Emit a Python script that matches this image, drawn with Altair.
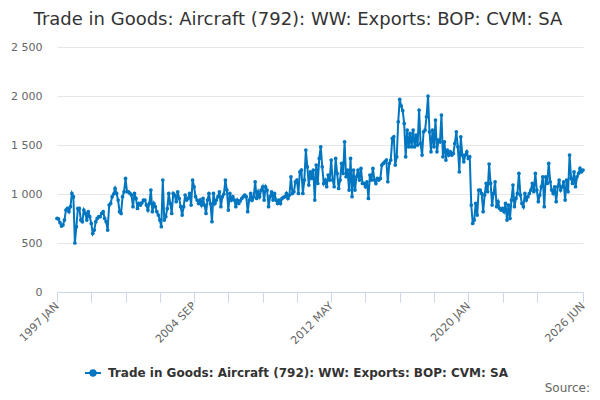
import altair as alt
import pandas as pd

TITLE = "Trade in Goods: Aircraft (792): WW: Exports: BOP: CVM: SA"
BLUE = "#0076C0"

MONTH_NAMES = ["JAN", "FEB", "MAR", "APR", "MAY", "JUN",
               "JUL", "AUG", "SEP", "OCT", "NOV", "DEC"]
months = [f"{y} {m}" for y in range(1997, 2027) for m in MONTH_NAMES][:354]

values = [
    751, 745, 707, 673, 683, 734, 836, 853, 819, 870, 1006, 972,
    500, 666, 853, 853, 734, 717, 836, 802, 734, 819, 768, 700,
    598, 632, 717, 751, 768, 768, 802, 819, 751, 717, 632, 887,
    904, 972, 1000, 1057, 1006, 938, 819, 802, 972, 1023, 1159, 1023,
    1023, 1006, 989, 870, 1006, 955, 853, 904, 887, 910, 938, 938,
    887, 836, 904, 1040, 819, 904, 870, 819, 785, 734, 666, 1142,
    734, 768, 850, 1006, 904, 802, 1006, 989, 921, 1023, 955, 870,
    785, 870, 989, 938, 955, 1006, 887, 1142, 1074, 972, 938, 904,
    938, 887, 955, 887, 802, 938, 1006, 900, 717, 1006, 904, 938,
    972, 1023, 870, 972, 1000, 1142, 1040, 836, 1006, 938, 972, 938,
    870, 938, 904, 930, 955, 972, 989, 972, 819, 938, 1006, 938,
    972, 1125, 955, 1023, 972, 1040, 1074, 938, 1074, 1040, 870, 972,
    1023, 938, 1006, 938, 904, 938, 904, 955, 965, 972, 1006, 955,
    989, 1176, 1006, 1023, 1125, 1142, 1006, 1227, 1244, 1006, 1142, 1448,
    1278, 1091, 1227, 1159, 1244, 938, 1295, 1108, 1363, 1482, 1278, 1108,
    1142, 1074, 1193, 1142, 1346, 1142, 1074, 1363, 1210, 1057, 1142, 1312,
    1210, 1533, 1176, 1244, 1040, 1363, 972, 1244, 1040, 1176, 1244, 1142,
    1261, 1108, 1108, 1074, 1125, 955, 1193, 1142, 1261, 1142, 1108, 1159,
    1142, 1159, 1295, 1312, 1329, 1346, 1125, 1312, 1346, 1567, 1584, 1295,
    1380, 1737, 1965, 1900, 1850, 1720, 1380, 1652, 1482, 1618, 1482, 1652,
    1482, 1601, 1499, 1856, 1516, 1397, 1635, 1652, 1788, 1999, 1635, 1431,
    1652, 1482, 1754, 1431, 1550, 1533, 1805, 1380, 1533, 1346, 1448, 1397,
    1431, 1397, 1414, 1516, 1635, 1482, 1227, 1584, 1397, 1329, 1397, 1431,
    1363, 1380, 887, 700, 734, 904, 785, 1040, 1040, 1006, 819, 989,
    1108, 1023, 1306, 1108, 887, 1006, 1125, 870, 921, 853, 836, 853,
    819, 904, 734, 887, 751, 938, 1091, 870, 955, 1006, 1210, 989,
    904, 870, 1006, 938, 972, 1006, 1040, 1108, 1023, 1210, 1040, 921,
    989, 1074, 1176, 870, 1176, 1108, 1312, 1125, 1040, 1006, 1074, 921,
    1074, 1142, 1040, 1074, 1125, 938, 1142, 1023, 1397, 1159, 1108, 1227,
    1074, 1176, 1210, 1261, 1227, 1244,
]

x_tick_idx = [0, 23, 46, 69, 92, 115, 138, 161, 184, 207, 230, 253, 276, 299, 322, 353]
x_label_idx = [0, 92, 184, 276, 353]
y_ticks = [0, 500, 1000, 1500, 2000, 2500]

df = pd.DataFrame({
    "idx": list(range(len(values))),
    "month": months,
    "value": values,
    "series": [TITLE] * len(values),
})

label_expr = " : ".join(
    f"datum.value == {i} ? '{months[i]}'" for i in x_label_idx
) + " : ''"

path_symbol = "M-1,0L1,0M0.33,0A0.33,0.33,0,1,1,-0.33,0A0.33,0.33,0,1,1,0.33,0Z"

line = alt.Chart(df).mark_line(
    strokeWidth=2,
    point=alt.OverlayMarkDef(filled=True, size=14, color=BLUE),
).encode(
    x=alt.X("idx:Q",
            scale=alt.Scale(domain=[0, 353], nice=False, zero=False),
            axis=alt.Axis(values=x_tick_idx, labelExpr=label_expr, title=None,
                          grid=False, domainColor="#ccd6eb", tickColor="#ccd6eb",
                          tickSize=10, labelAngle=-45, labelAlign="right",
                          labelBaseline="middle", labelPadding=2,
                          labelOverlap=False, labelBound=False, labelFlush=False,
                          labelFontSize=11, labelColor="#666666",
                          labelFont="DejaVu Sans")),
    y=alt.Y("value:Q",
            scale=alt.Scale(domain=[0, 2500], nice=False),
            axis=alt.Axis(values=y_ticks, title=None, domain=False, ticks=False,
                          gridColor="#e6e6e6", labelPadding=15,
                          labelExpr="replace(format(datum.value, ','), ',', ' ')",
                          labelFontSize=11, labelColor="#666666",
                          labelFont="DejaVu Sans")),
    color=alt.Color("series:N",
                    scale=alt.Scale(range=[BLUE]),
                    legend=alt.Legend(title=None, orient="none", legendX=27, legendY=317,
                                      symbolType=path_symbol, symbolSize=256,
                                      symbolStrokeWidth=2, symbolFillColor=BLUE,
                                      symbolStrokeColor=BLUE, labelOffset=6,
                                      labelFontSize=12, labelFontWeight="bold",
                                      labelColor="#333333", labelFont="DejaVu Sans",
                                      labelLimit=600)),
)

source = alt.Chart(pd.DataFrame({"t": ["Source:"]})).mark_text(
    align="right", baseline="alphabetic", fontSize=12, color="#666666",
    font="DejaVu Sans",
).encode(text="t:N", x=alt.value(533), y=alt.value(345))

chart = alt.layer(line, source).properties(
    width=526,
    height=245,
    title=alt.TitleParams(TITLE, fontSize=18, font="DejaVu Sans", fontWeight="normal",
                          color="#333333", anchor="middle", dx=-22, offset=16,
                          dy=18, baseline="alphabetic"),
    autosize=alt.AutoSizeParams(type="none"),
    padding={"left": 49, "top": 39, "right": 9, "bottom": 106},
).configure_view(stroke=None)

chart.save("out.html", embed_options={"renderer": "svg", "actions": False})
